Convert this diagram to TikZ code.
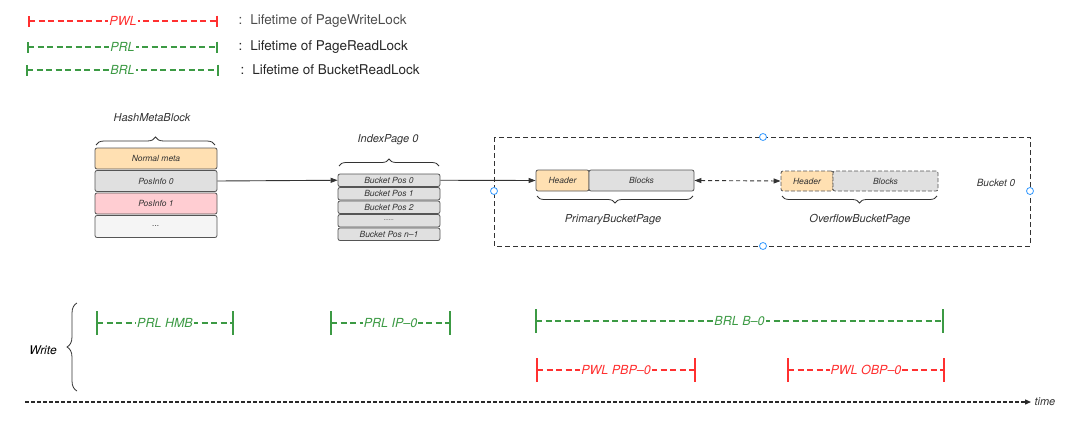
\documentclass[tikz,border=0pt]{standalone}
\usepackage{fontspec}
\setmainfont{TeX Gyre Heros}
\usetikzlibrary{arrows.meta,decorations.pathreplacing}
\definecolor{pwlc}{HTML}{FF3030}
\definecolor{prlc}{HTML}{3C9A44}
\definecolor{edgec}{HTML}{555555}
\definecolor{txtc}{HTML}{333333}
\definecolor{orangef}{HTML}{FFE0B2}
\definecolor{grayf}{HTML}{E0E0E0}
\definecolor{pinkf}{HTML}{FFCDD2}
\definecolor{lightf}{HTML}{F5F5F5}
\definecolor{handlec}{HTML}{3399FF}
\begin{document}
\begin{tikzpicture}[x=1pt,y=-1pt,
  cell/.style={draw=edgec, line width=0.8pt, rounded corners=2pt, inner sep=0pt,
    font=\itshape\fontsize{8.5}{9}\selectfont, text=txtc},
  lifeline/.style={line width=1.3pt, dash pattern=on 6pt off 3.5pt},
  smalltick/.style={{Bar[width=11pt,line width=1.6pt]}-{Bar[width=11pt,line width=1.6pt]}},
  bigtick/.style={{Bar[width=24pt,line width=1.6pt]}-{Bar[width=24pt,line width=1.6pt]}},
  lbl/.style={fill=white, inner sep=1pt, font=\itshape\fontsize{12.5}{12.5}\selectfont},
  legtext/.style={anchor=west, font=\fontsize{13.5}{13.5}\selectfont, text=black!85},
  caption/.style={font=\itshape\fontsize{11}{11}\selectfont, text=txtc},
  bracestyle/.style={draw=txtc, line width=0.8pt, decorate},
  handle/.style={circle, draw=handlec, fill=white, line width=0.8pt, minimum size=7pt, inner sep=0pt},
  link/.style={draw=txtc, line width=0.9pt, -{Triangle[length=7pt,width=5pt]}}
]
\useasboundingbox (0,0) rectangle (1080,434);

% ---------- legend ----------
\coordinate (l1a) at (28,21); \coordinate (l1b) at (218,21);
\coordinate (l2a) at (27,47); \coordinate (l2b) at (218,47);
\coordinate (l3a) at (26,70); \coordinate (l3b) at (219,70);
\draw[lifeline, smalltick, color=pwlc] (l1a) -- (l1b);
\draw[lifeline, smalltick, color=prlc] (l2a) -- (l2b);
\draw[lifeline, smalltick, color=prlc] (l3a) -- (l3b);
\path (l1a) -- node[lbl, text=pwlc] (lg1) {PWL} (l1b);
\path (l2a) -- node[lbl, text=prlc] (lg2) {PRL} (l2b);
\path (l3a) -- node[lbl, text=prlc] (lg3) {BRL} (l3b);
\node[legtext, text=black!70] (t1) at (235,21) {:\hspace{8pt}Lifetime of PageWriteLock};
\node[legtext] (t2) at (235,47) {:\hspace{8pt}Lifetime of PageReadLock};
\node[legtext] (t3) at (237,70) {:\hspace{8pt}Lifetime of BucketReadLock};

% ---------- HashMetaBlock ----------
\node[cell, fill=orangef, minimum width=122pt, minimum height=21pt] (nm) at (156,158.5) {Normal meta};
\node[cell, fill=grayf, minimum width=122pt, minimum height=21pt] (pi0) at (156,181) {PosInfo 0};
\node[cell, fill=pinkf, minimum width=122pt, minimum height=21pt] (pi1) at (156,203.5) {PosInfo 1};
\node[cell, fill=lightf, minimum width=122pt, minimum height=22pt] (dots) at (156,226.5) {...};
\draw[bracestyle, decoration={brace, amplitude=8pt}] (96,145) -- (215,145);
\node[caption] (hmb) at (152,118) {HashMetaBlock};

% ---------- IndexPage 0 ----------
\node[cell, fill=grayf, minimum width=102pt, minimum height=12.5pt] (bp0) at (389,180.25) {Bucket Pos 0};
\node[cell, fill=grayf, minimum width=102pt, minimum height=12.5pt] (bp1) at (389,193.75) {Bucket Pos 1};
\node[cell, fill=grayf, minimum width=102pt, minimum height=12.5pt] (bp2) at (389,207.25) {Bucket Pos 2};
\node[cell, fill=grayf, minimum width=102pt, minimum height=12.5pt] (bp3) at (389,220.75) {\raisebox{1pt}{\fontsize{6}{6}\selectfont ......}};
\node[cell, fill=grayf, minimum width=102pt, minimum height=12.5pt] (bp4) at (389,234.25) {Bucket Pos n\textendash1};
\draw[bracestyle, decoration={brace, amplitude=7pt}] (339,166) -- (439,166);
\node[caption] (ip) at (388,140) {IndexPage 0};

% ---------- Bucket 0 ----------
\draw[draw=txtc, line width=0.9pt, dash pattern=on 5pt off 3pt] (494,137) rectangle (1030,246);
\node[handle] (h1) at (763,137) {};
\node[handle] (h2) at (494,191) {};
\node[handle] (h3) at (1030,191) {};
\node[handle] (h4) at (763,246) {};
\node[caption, font=\itshape\fontsize{10}{10}\selectfont] (b0) at (996,183) {Bucket 0};

\node[cell, fill=orangef, minimum width=53pt, minimum height=21pt] (ph) at (562.5,180.5) {Header};
\node[cell, fill=grayf, minimum width=105pt, minimum height=21pt] (pb) at (641.5,180.5) {Blocks};
\draw[bracestyle, decoration={brace, amplitude=7pt, mirror}] (537,196) -- (693,196);
\node[caption] (pbp) at (613,220) {PrimaryBucketPage};

\node[cell, fill=orangef, dash pattern=on 4pt off 2pt, minimum width=52pt, minimum height=20pt] (oh) at (807,181) {Header};
\node[cell, fill=grayf, dash pattern=on 4pt off 2pt, minimum width=105pt, minimum height=20pt] (ob) at (885.5,181) {Blocks};
\draw[bracestyle, decoration={brace, amplitude=7pt, mirror}] (782,196) -- (937,196);
\node[caption] (obp) at (860,220) {OverflowBucketPage};

% ---------- connectors ----------
\draw[link] (pi0.east) -- (bp0.west);
\draw[link] (bp0.east) -- (ph.west);
\draw[draw=txtc, line width=0.9pt, dash pattern=on 4pt off 3pt,
  {Triangle[length=7pt,width=5pt]}-{Triangle[length=7pt,width=5pt]}] (pb.east) -- (oh.west);

% ---------- Write timeline ----------
\draw[bracestyle, decoration={brace, amplitude=10pt}] (77,391) -- (77,303);
\node[font=\itshape\fontsize{12}{12}\selectfont, text=black] (wr) at (43,350) {Write};

\coordinate (w1a) at (96,323); \coordinate (w1b) at (234,323);
\coordinate (w2a) at (330,323); \coordinate (w2b) at (451,323);
\coordinate (w3a) at (535,321); \coordinate (w3b) at (944,321);
\coordinate (w4a) at (536,370); \coordinate (w4b) at (696,370);
\coordinate (w5a) at (787,370); \coordinate (w5b) at (945,370);
\draw[lifeline, bigtick, color=prlc] (w1a) -- (w1b);
\draw[lifeline, bigtick, color=prlc] (w2a) -- (w2b);
\draw[lifeline, bigtick, color=prlc] (w3a) -- (w3b);
\draw[lifeline, bigtick, color=pwlc] (w4a) -- (w4b);
\draw[lifeline, bigtick, color=pwlc] (w5a) -- (w5b);
\path (w1a) -- node[lbl, text=prlc] (s1) {PRL HMB} (w1b);
\path (w2a) -- node[lbl, text=prlc] (s2) {PRL IP\textendash0} (w2b);
\path (w3a) -- node[lbl, text=prlc] (s3) {BRL B\textendash0} (w3b);
\path (w4a) -- node[lbl, text=pwlc] (s4) {PWL PBP\textendash0} (w4b);
\path (w5a) -- node[lbl, text=pwlc] (s5) {PWL OBP\textendash0} (w5b);

% ---------- time axis ----------
\coordinate (ta) at (25,402);
\node[font=\itshape\fontsize{11}{11}\selectfont, text=txtc, anchor=west] (time) at (1031,402) {time};
\draw[draw=txtc!80!black, line width=1.3pt, dash pattern=on 4pt off 2pt, -{Triangle[length=6pt,width=5pt]}] (ta) -- (time.west);
\end{tikzpicture}
\end{document}
